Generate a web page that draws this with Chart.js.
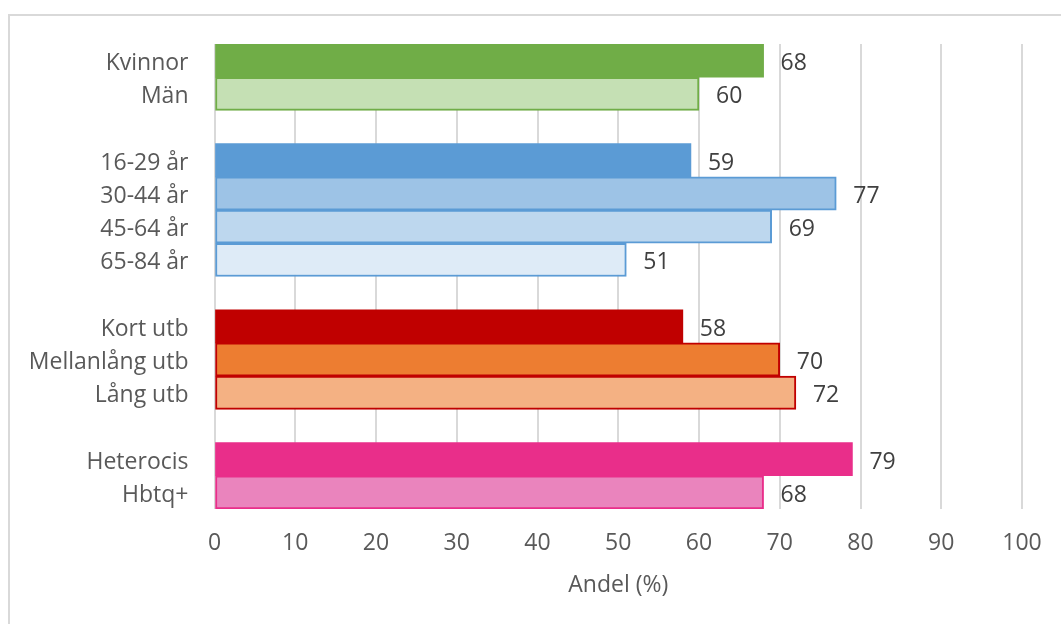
<!DOCTYPE html>
<html>
<head>
<meta charset="utf-8">
<script src="https://cdn.jsdelivr.net/npm/chart.js@4/dist/chart.umd.min.js"></script>
<style>
  html, body { margin: 0; padding: 0; background: #ffffff; overflow: hidden; }
  #wrap { position: absolute; left: 0; top: 0; width: 1061px; height: 624px; }
</style>
</head>
<body>
<div id="wrap"><canvas id="chart" width="1061" height="624"></canvas></div>
<script>
// Groups are separated by empty rows in the category list
const categories = ['Kvinnor', 'Män', '', '16-29 år', '30-44 år', '45-64 år', '65-84 år', '',
                    'Kort utb', 'Mellanlång utb', 'Lång utb', '', 'Heterocis', 'Hbtq+'];
const andel = [68, 60, null, 59, 77, 69, 51, null, 58, 70, 72, null, 79, 68];
const axisTitle = 'Andel (%)';

// Fill and outline per row
const fills = ['#70ad47', '#c5e0b4', null, '#5b9bd5', '#9dc3e6', '#bdd7ee', '#deebf7', null,
               '#c00000', '#ed7d31', '#f4b183', null, '#e92e8a', '#ea84bd'];
const outlines = ['#70ad47', '#70ad47', null, '#5b9bd5', '#5b9bd5', '#5b9bd5', '#5b9bd5', null,
                  '#c00000', '#c00000', '#c00000', null, '#e92e8a', '#e92e8a'];
const outlineWidths = [0, 2, 0, 0, 2, 2, 2, 0, 0, 2, 2, 0, 0, 2];

const FONT = '"Open Sans", "Noto Sans", sans-serif';
const SIZE = 23;

// Frame around the whole figure
const framePlugin = {
  id: 'frame',
  beforeDraw(chart) {
    const ctx = chart.ctx;
    ctx.save();
    ctx.fillStyle = '#ffffff';
    ctx.fillRect(0, 0, chart.width, chart.height);
    ctx.strokeStyle = '#d9d9d9';
    ctx.lineWidth = 2;
    ctx.strokeRect(9, 15, chart.width + 20, chart.height + 20);
    ctx.restore();
  }
};

// Value labels to the right of each bar
const valueLabels = {
  id: 'valueLabels',
  afterDatasetsDraw(chart) {
    const ctx = chart.ctx;
    const meta = chart.getDatasetMeta(0);
    ctx.save();
    ctx.font = SIZE + 'px ' + FONT;
    ctx.fillStyle = '#404040';
    ctx.textAlign = 'left';
    ctx.textBaseline = 'middle';
    meta.data.forEach((bar, i) => {
      const v = chart.data.datasets[0].data[i];
      if (v === null || v === undefined) return;
      ctx.fillText(String(v), bar.x + 17, bar.y + 3);
    });
    ctx.restore();
  }
};

new Chart(document.getElementById('chart'), {
  type: 'bar',
  data: {
    labels: categories,
    datasets: [{
      data: andel,
      backgroundColor: fills,
      borderColor: outlines,
      borderWidth: outlineWidths,
      borderSkipped: false,
      barPercentage: 1,
      categoryPercentage: 1
    }]
  },
  options: {
    indexAxis: 'y',
    responsive: false,
    animation: false,
    devicePixelRatio: 1,
    layout: { padding: { top: 44, right: 39, bottom: 0, left: 0 } },
    plugins: {
      legend: { display: false },
      tooltip: { enabled: false }
    },
    scales: {
      x: {
        min: 0,
        max: 100,
        ticks: {
          stepSize: 10,
          color: '#595959',
          font: { family: FONT, size: SIZE },
          padding: 21
        },
        grid: { color: '#d9d9d9', lineWidth: 2, drawTicks: false },
        border: { display: false },
        title: {
          display: true,
          text: axisTitle,
          color: '#595959',
          font: { family: FONT, size: SIZE },
          padding: { top: 0, bottom: 25 }
        },
        afterFit(scale) {
          scale.height = 115;
          scale.paddingLeft = 0;
          scale.paddingRight = 0;
        }
      },
      y: {
        ticks: {
          color: '#595959',
          font: { family: FONT, size: SIZE },
          padding: 26,
          labelOffset: 3,
          autoSkip: false
        },
        grid: { display: false, drawTicks: false },
        border: { display: false },
        afterFit(scale) { scale.width = 214.5; }
      }
    }
  },
  plugins: [framePlugin, valueLabels]
});
</script>
</body>
</html>
